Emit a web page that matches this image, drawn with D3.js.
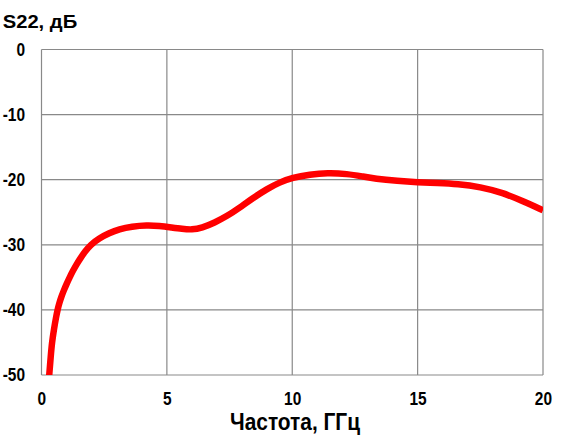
<!DOCTYPE html>
<html><head><meta charset="utf-8">
<script src="https://cdn.jsdelivr.net/npm/d3@7"></script>
<style>body{margin:0;background:#fff}svg{display:block}</style>
</head><body>
<script>
const freq = [0.30,0.371,0.419,0.495,0.587,0.639,0.707,0.790,0.890,1.002,1.122,1.254,1.397,1.561,1.745,1.956,2.3,2.7,3.1,3.6,4.2,4.7,5.2,5.6,6.0,6.4,6.9,7.4,7.9,8.4,9.0,9.5,10.0,10.7,11.4,12.2,12.8,13.3,14.2,15.0,15.8,16.6,17.5,18.4,19.2,20];
const s22 = [-50.4,-47,-45,-43,-41,-40,-39,-38,-37,-36,-35,-34,-33,-32,-31,-30,-29.0,-28.2,-27.6,-27.2,-27.0,-27.1,-27.35,-27.55,-27.7,-27.4,-26.6,-25.6,-24.3,-22.9,-21.4,-20.4,-19.7,-19.2,-18.95,-19.1,-19.5,-19.85,-20.2,-20.4,-20.5,-20.65,-21.1,-22.0,-23.3,-24.7];
const xTicks = [0,5,10,15,20];
const yTicks = [0,-10,-20,-30,-40,-50];
const title = "S22, дБ";
const xTitle = "Частота, ГГц";

const W=564,H=440;
const m={l:41.5,t:49.5,r:21,b:65};
const svg=d3.select("body").append("svg").attr("width",W).attr("height",H);
const x=d3.scaleLinear().domain([0,20]).range([m.l,W-m.r]);
const y=d3.scaleLinear().domain([-50,0]).range([H-m.b,m.t]);
const font="'Liberation Sans', Arial, sans-serif";

// grid
svg.append("g").selectAll("line").data(xTicks).join("line")
  .attr("x1",d=>x(d)).attr("x2",d=>x(d)).attr("y1",y(0)).attr("y2",y(-50))
  .attr("stroke","#898989").attr("stroke-width",1.2);
svg.append("g").selectAll("line").data(yTicks).join("line")
  .attr("y1",d=>y(d)).attr("y2",d=>y(d)).attr("x1",x(0)).attr("x2",x(20))
  .attr("stroke","#898989").attr("stroke-width",1.2);

// tick labels
const sx=0.86;
svg.append("g").selectAll("text").data(yTicks).join("text")
  .attr("x",25).attr("y",d=>y(d)).attr("dy","0.36em").attr("text-anchor","end")
  .attr("font-family",font).attr("font-weight","bold").attr("font-size",18)
  .attr("transform",`translate(25,0) scale(${sx},1) translate(-25,0)`)
  .text(d=>d);
svg.append("g").selectAll("text").data(xTicks).join("text")
  .attr("x",d=>x(d)+0.5).attr("y",405).attr("text-anchor","middle")
  .attr("font-family",font).attr("font-weight","bold").attr("font-size",18)
  .attr("transform",d=>`translate(${x(d)},0) scale(${sx},1) translate(${-x(d)},0)`)
  .text(d=>d);

// titles
svg.append("text").attr("x",2.7).attr("y",27.7).attr("font-family",font).attr("font-weight","bold")
  .attr("font-size",18).attr("textLength",74.5).attr("lengthAdjust","spacingAndGlyphs").text(title);
svg.append("text").attr("x",230).attr("y",430).attr("font-family",font)
  .attr("font-weight","bold").attr("font-size",23.5)
  .attr("textLength",130).attr("lengthAdjust","spacingAndGlyphs").text(xTitle);

// curve
svg.append("clipPath").attr("id","c").append("rect")
  .attr("x",x(0)).attr("y",y(0)).attr("width",x(20)-x(0)).attr("height",y(-50)-y(0));
const data=freq.map((f,i)=>[f,s22[i]]);
svg.append("path").datum(data).attr("clip-path","url(#c)")
  .attr("d",d3.line().x(d=>x(d[0])).y(d=>y(d[1])).curve(d3.curveBasis))
  .attr("fill","none").attr("stroke","#ff0000").attr("stroke-width",6.5).attr("stroke-linejoin","round");
</script>
</body></html>
